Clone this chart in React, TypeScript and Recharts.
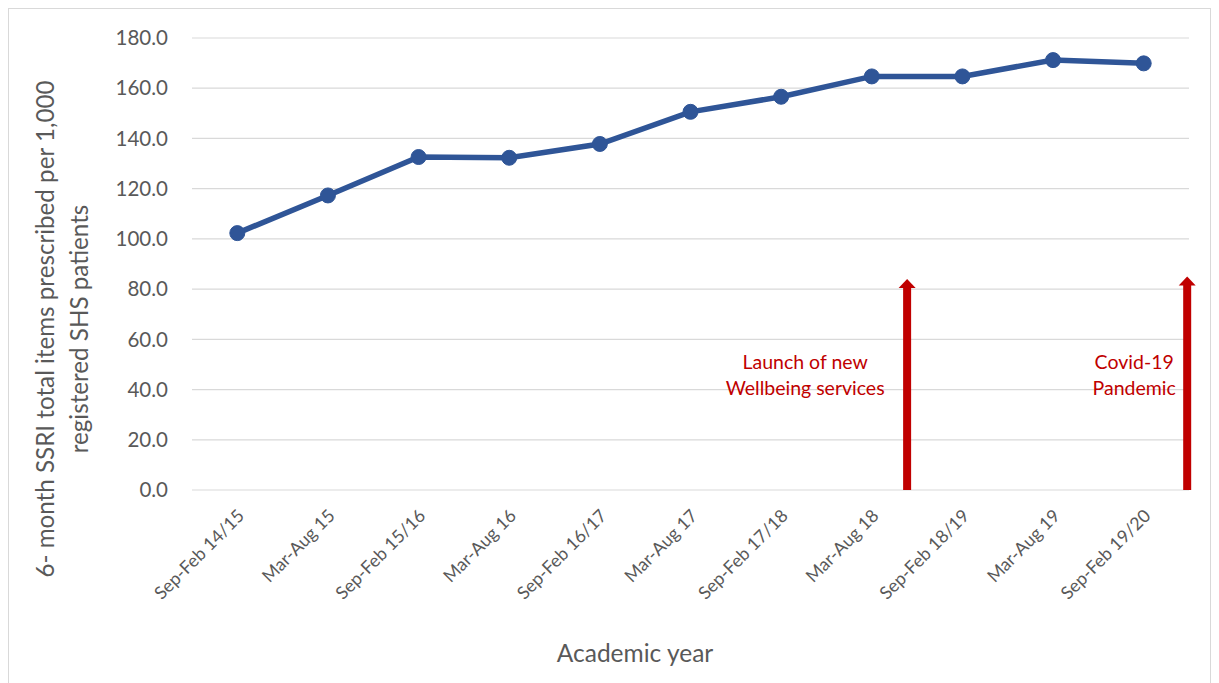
import React from 'react';
import { LineChart, Line, XAxis, YAxis, CartesianGrid, ReferenceLine, Label } from 'recharts';

const categories = [
  'Sep-Feb 14/15',
  'Mar-Aug 15',
  'Sep-Feb 15/16',
  'Mar-Aug 16',
  'Sep-Feb 16/17',
  'Mar-Aug 17',
  'Sep-Feb 17/18',
  'Mar-Aug 18',
  'Sep-Feb 18/19',
  'Mar-Aug 19',
  'Sep-Feb 19/20',
];
const ssriPer1000 = [102.3, 117.3, 132.6, 132.3, 137.8, 150.6, 156.6, 164.7, 164.7, 171.2, 169.9];
const yTicks = [0, 20, 40, 60, 80, 100, 120, 140, 160, 180];

// event arrows: position on the category index scale, arrow tip value, label lines
const eventPos = [7.39, 10.48];
const eventTop = [84, 85];
const eventLabels = [
  ['Launch of new', 'Wellbeing services'],
  ['Covid-19', 'Pandemic'],
];

const data = categories.map((name, i) => ({ name, idx: i, value: ssriPer1000[i] }));

const FONT = 'Lato, "Open Sans", sans-serif';
const GREY = '#595959';
const RED = '#C00000';
const BLUE = '#2F5597';

const XTick = (props: any) => {
  const { x, y, payload } = props;
  return (
    <g transform={`translate(${x + 8},${y + 27})`}>
      <text textAnchor="end" transform="rotate(-45)" fill={GREY} fontSize={17.8} fontFamily={FONT}>
        {payload.value}
      </text>
    </g>
  );
};

const makeArrow = (lines: string[], textDx: number) => (props: any) => {
  const { x1, y1, y2 } = props;
  const top = Math.min(y1, y2);
  const bottom = Math.max(y1, y2);
  const x = x1;
  return (
    <g>
      <rect x={x - 4} y={top + 7} width={8} height={bottom - top - 7} fill={RED} />
      <polygon points={`${x - 8.5},${top + 9} ${x + 8.5},${top + 9} ${x},${top}`} fill={RED} />
      {lines.map((t, i) => (
        <text
          key={i}
          x={x + textDx}
          y={bottom - 121 + i * 26}
          textAnchor="middle"
          fill={RED}
          fontSize={19.5}
          fontFamily={FONT}
        >
          {t}
        </text>
      ))}
    </g>
  );
};

const arrowTextDx = [-102, -53];

export default function App() {
  return (
    <div style={{ width: 1201, height: 680, border: '1px solid #d9d9d9', background: '#fff' }}>
      <LineChart width={1201} height={680} data={data} margin={{ top: 29, right: 21, bottom: 0, left: 73 }}>
        <CartesianGrid vertical={false} stroke="#d9d9d9" strokeWidth={1.2} />
        <XAxis
          dataKey="name"
          interval={0}
          tick={<XTick />}
          tickLine={false}
          axisLine={false}
          tickSize={0}
          tickMargin={0}
          padding={{ left: 45.3, right: 45.3 }}
          height={199}
        >
          <Label
            content={(p: any) => {
              const vb = p.viewBox;
              return (
                <text x={626} y={vb.y + 172} textAnchor="middle" fill={GREY} fontSize={24.5} fontFamily={FONT}>
                  Academic year
                </text>
              );
            }}
          />
        </XAxis>
        <XAxis xAxisId="pos" dataKey="idx" type="number" domain={[-0.5, 10.5]} allowDataOverflow hide />
        <YAxis
          domain={[0, 180]}
          ticks={yTicks}
          tickFormatter={(v: number) => v.toFixed(1)}
          tick={{ fill: GREY, fontSize: 20.5, fontFamily: FONT }}
          tickLine={false}
          axisLine={false}
          tickSize={0}
          tickMargin={24}
          width={110}
        >
          <Label
            content={() => (
              <g>
                <text
                  transform="translate(45,320) rotate(-90)"
                  textAnchor="middle"
                  fill={GREY}
                  fontSize={24.2}
                  fontFamily={FONT}
                >
                  6- month SSRI total items prescribed per 1,000
                </text>
                <text
                  transform="translate(79,320) rotate(-90)"
                  textAnchor="middle"
                  fill={GREY}
                  fontSize={24.2}
                  fontFamily={FONT}
                >
                  registered SHS patients
                </text>
              </g>
            )}
          />
        </YAxis>
        <Line
          dataKey="value"
          stroke={BLUE}
          strokeWidth={5.5}
          dot={{ r: 7.5, fill: BLUE, stroke: BLUE, strokeWidth: 1 }}
          isAnimationActive={false}
        />
        {eventPos.map((pos, i) => (
          <ReferenceLine
            key={i}
            xAxisId="pos"
            segment={[
              { x: pos, y: 0 },
              { x: pos, y: eventTop[i] },
            ]}
            shape={makeArrow(eventLabels[i], arrowTextDx[i])}
            ifOverflow="visible"
          />
        ))}
      </LineChart>
    </div>
  );
}
